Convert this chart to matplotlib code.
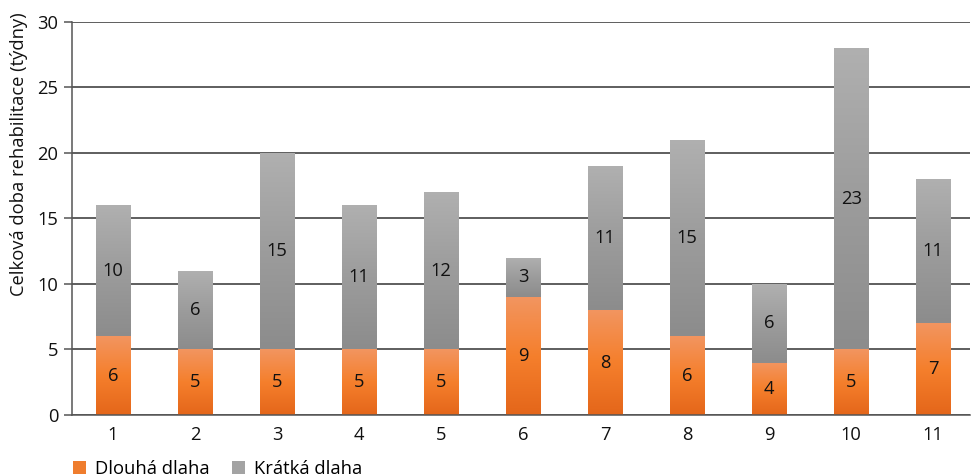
import numpy as np
import matplotlib.pyplot as plt
from matplotlib.colors import LinearSegmentedColormap

plt.rcParams['font.family'] = ['Open Sans', 'DejaVu Sans']

# data
patients = ['1', '2', '3', '4', '5', '6', '7', '8', '9', '10', '11']
dlouha = [6, 5, 5, 5, 5, 9, 8, 6, 4, 5, 7]
kratka = [10, 6, 15, 11, 12, 3, 11, 15, 6, 23, 11]

orange_cmap = LinearSegmentedColormap.from_list('or', ['#e4661a', '#f57f2c', '#f29560'])
gray_cmap = LinearSegmentedColormap.from_list('gr', ['#8c8c8c', '#9c9c9c', '#b0b0b0'])


def add_gradient(ax, bars, cmap):
    grad = np.linspace(0, 1, 256).reshape(-1, 1)
    for b in bars:
        x0, y0 = b.get_x(), b.get_y()
        w, h = b.get_width(), b.get_height()
        im = ax.imshow(grad, cmap=cmap, origin='lower', aspect='auto',
                       extent=[x0, x0 + w, y0, y0 + h], zorder=2.5)
        im.set_clip_path(b)


fig = plt.figure(figsize=(9.72, 4.76), dpi=100)
ax = fig.add_axes([0.0741, 0.1282, 0.9239, 0.8256])

fs = 13.2
x = np.arange(1, len(patients) + 1)
b1 = ax.bar(x, dlouha, width=0.415, color='#ef7d2e', zorder=2, label='Dlouhá dlaha')
b2 = ax.bar(x, kratka, width=0.415, bottom=dlouha, color='#a3a3a3', zorder=2, label='Krátká dlaha')
add_gradient(ax, b1, orange_cmap)
add_gradient(ax, b2, gray_cmap)

for xi, d, k in zip(x, dlouha, kratka):
    ax.text(xi, d / 2, str(d), ha='center', va='center', fontsize=fs, color='#111111', zorder=4)
    ax.text(xi, d + k / 2, str(k), ha='center', va='center', fontsize=fs, color='#111111', zorder=4)

ax.set_xlim(0.5, 11.45)
ax.set_ylim(0, 30)
ax.set_yticks(range(0, 31, 5))
ax.set_xticks(x)
ax.set_xticklabels(patients)
ax.yaxis.grid(True, color='#333333', linewidth=1.1, zorder=0)
ax.set_axisbelow(True)
for s in ['top', 'right']:
    ax.spines[s].set_visible(False)
ax.spines['left'].set_color('#555555')
ax.spines['bottom'].set_color('#555555')
ax.spines['left'].set_linewidth(1.1)
ax.spines['bottom'].set_linewidth(1.1)
ax.tick_params(axis='x', length=0, pad=8, labelsize=fs, colors='#111111')
ax.tick_params(axis='y', length=6, width=1.1, color='#555555', pad=4, labelsize=fs, labelcolor='#111111')
ax.set_ylabel('Celková doba rehabilitace (týdny)', fontsize=fs, color='#111111')
ax.yaxis.set_label_coords(-0.049, 0.664)

ax.legend(handles=[b1, b2], loc='upper left', bbox_to_anchor=(0.001, -0.114), ncol=2,
          frameon=False, fontsize=fs, handlelength=0.7, handleheight=0.7,
          handletextpad=0.5, columnspacing=1.25, borderaxespad=0, borderpad=0)

fig.savefig('out.png', dpi=100)
